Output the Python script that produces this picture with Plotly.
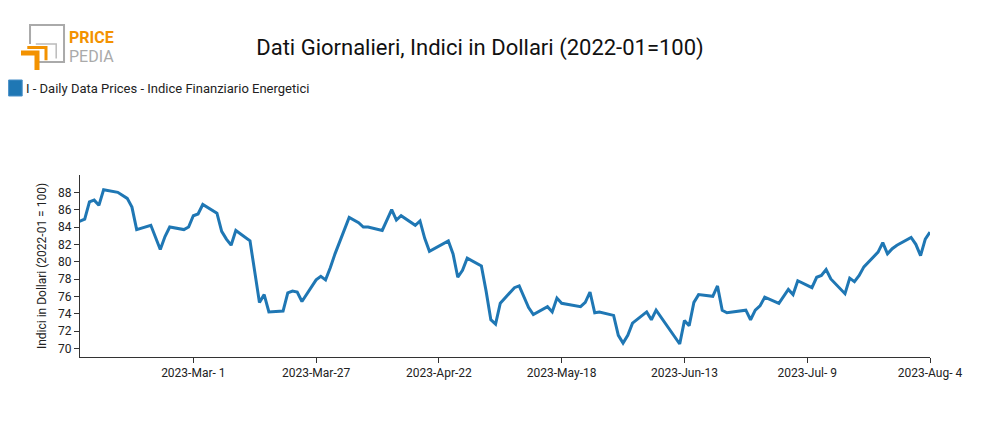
import plotly.graph_objects as go

# Dati giornalieri
dates = [
    "2023-02-03", "2023-02-06", "2023-02-07", "2023-02-08", "2023-02-09", "2023-02-10",
    "2023-02-13", "2023-02-15", "2023-02-16", "2023-02-17",
    "2023-02-20", "2023-02-22", "2023-02-23", "2023-02-24",
    "2023-02-27", "2023-02-28", "2023-03-01", "2023-03-02", "2023-03-03",
    "2023-03-06", "2023-03-07", "2023-03-08", "2023-03-09", "2023-03-10",
    "2023-03-13", "2023-03-15", "2023-03-16", "2023-03-17",
    "2023-03-20", "2023-03-21", "2023-03-22", "2023-03-23", "2023-03-24",
    "2023-03-27", "2023-03-28", "2023-03-29", "2023-03-30", "2023-03-31",
    "2023-04-03", "2023-04-05", "2023-04-06", "2023-04-07",
    "2023-04-10", "2023-04-12", "2023-04-13", "2023-04-14",
    "2023-04-17", "2023-04-18", "2023-04-19", "2023-04-20",
    "2023-04-24", "2023-04-25", "2023-04-26", "2023-04-27", "2023-04-28",
    "2023-05-01", "2023-05-02", "2023-05-03", "2023-05-04", "2023-05-05",
    "2023-05-08", "2023-05-09", "2023-05-11", "2023-05-12",
    "2023-05-15", "2023-05-16", "2023-05-17", "2023-05-18",
    "2023-05-22", "2023-05-23", "2023-05-24", "2023-05-25", "2023-05-26",
    "2023-05-29", "2023-05-30", "2023-05-31", "2023-06-01", "2023-06-02",
    "2023-06-05", "2023-06-06", "2023-06-07", "2023-06-09",
    "2023-06-12", "2023-06-13", "2023-06-14", "2023-06-15", "2023-06-16",
    "2023-06-19", "2023-06-20", "2023-06-21", "2023-06-22",
    "2023-06-26", "2023-06-27", "2023-06-28", "2023-06-29", "2023-06-30",
    "2023-07-03", "2023-07-05", "2023-07-06", "2023-07-07",
    "2023-07-10", "2023-07-11", "2023-07-12", "2023-07-13", "2023-07-14",
    "2023-07-17", "2023-07-18", "2023-07-19", "2023-07-20", "2023-07-21",
    "2023-07-24", "2023-07-25", "2023-07-26", "2023-07-27", "2023-07-28",
    "2023-07-31", "2023-08-01", "2023-08-02", "2023-08-03", "2023-08-04",
]
values = [
    84.2, 84.9, 86.9, 87.1, 86.5, 88.3,
    88.0, 87.3, 86.3, 83.7,
    84.2, 81.4, 82.9, 84.0,
    83.7, 84.0, 85.3, 85.5, 86.6,
    85.6, 83.5, 82.6, 81.9, 83.6,
    82.4, 75.3, 76.2, 74.2,
    74.3, 76.4, 76.6, 76.5, 75.4,
    77.9, 78.3, 77.9, 79.3, 80.9,
    85.1, 84.5, 84.0, 84.0,
    83.6, 86.0, 84.8, 85.3,
    84.2, 84.7, 82.7, 81.2,
    82.4, 80.9, 78.2, 79.0, 80.4,
    79.5, 76.6, 73.3, 72.8, 75.2,
    77.0, 77.2, 74.7, 73.9,
    74.8, 74.2, 75.8, 75.2,
    74.8, 75.3, 76.5, 74.1, 74.2,
    73.8, 71.5, 70.6, 71.5, 72.9,
    74.2, 73.3, 74.4, 72.8,
    70.5, 73.2, 72.6, 75.3, 76.2,
    76.0, 77.2, 74.4, 74.1,
    74.4, 73.3, 74.4, 74.9, 75.9,
    75.2, 76.8, 76.2, 77.8,
    77.0, 78.2, 78.4, 79.1, 78.0,
    76.3, 78.1, 77.7, 78.4, 79.4,
    81.1, 82.2, 80.9, 81.5, 81.9,
    82.8, 82.0, 80.7, 82.6, 83.4,
]
tick_dates = ["2023-03-01", "2023-03-27", "2023-04-22", "2023-05-18",
              "2023-06-13", "2023-07-09", "2023-08-04"]
tick_labels = ["2023-Mar- 1", "2023-Mar-27", "2023-Apr-22", "2023-May-18",
               "2023-Jun-13", "2023-Jul- 9", "2023-Aug- 4"]
series_name = "I - Daily Data Prices - Indice Finanziario Energetici"
blue = "#1f77b4"

fig = go.Figure()
fig.add_trace(go.Scatter(x=dates, y=values, mode="lines", line=dict(color=blue, width=3),
                         name=series_name, showlegend=False))

axis_style = dict(showgrid=False, zeroline=False, showline=True, linecolor="#333",
                  ticks="outside", ticklen=5, tickcolor="#333", automargin=False)
fig.update_xaxes(range=["2023-02-05", "2023-08-04"], tickvals=tick_dates,
                 ticktext=tick_labels, **axis_style)
fig.update_yaxes(range=[69, 90], tickvals=list(range(70, 89, 2)),
                 title=dict(text="Indici in Dollari (2022-01 = 100)", font=dict(size=12),
                            standoff=8),
                 **axis_style)

# legenda: quadratino + testo
fig.add_shape(type="rect", xref="paper", yref="paper", x0=-0.084, x1=-0.068,
              y0=1.434, y1=1.522, fillcolor=blue, line=dict(color="#4a90c8", width=1))
fig.add_annotation(x=-0.066, y=1.478, xref="paper", yref="paper", text=series_name,
                   showarrow=False, xanchor="left", yanchor="middle", font=dict(size=13))

# logo approssimato (coordinate paper)
fig.add_shape(type="path", xref="paper", yref="paper",
              path="M -0.0588 1.72 L -0.0588 1.824 L -0.0188 1.824 L -0.0188 1.621 L -0.05 1.621",
              line=dict(color="#aaa", width=2))
fig.add_shape(type="path", xref="paper", yref="paper",
              path="M -0.052 1.72 L -0.028 1.72 L -0.028 1.64",
              line=dict(color="#bbb", width=1.5))
fig.add_shape(type="path", xref="paper", yref="paper",
              path="M -0.0694 1.67 L -0.0506 1.67 L -0.0506 1.577",
              line=dict(color="#f39200", width=5))
fig.add_shape(type="path", xref="paper", yref="paper",
              path="M -0.062 1.70 L -0.040 1.70 L -0.040 1.63",
              line=dict(color="#f39200", width=3))
fig.add_annotation(x=-0.015, y=1.82, xref="paper", yref="paper", text="<b>PRICE</b>",
                   showarrow=False, xanchor="left", yanchor="top",
                   font=dict(color="#f39200", size=16, family="Roboto"))
fig.add_annotation(x=-0.015, y=1.715, xref="paper", yref="paper", text="PEDIA",
                   showarrow=False, xanchor="left", yanchor="top",
                   font=dict(color="#aaa", size=16, family="Roboto"))

fig.update_layout(
    width=985, height=430,
    title=dict(text="Dati Giornalieri, Indici in Dollari (2022-01=100)", x=472 / 985,
               y=1 - 39 / 430, xanchor="center", yanchor="middle",
               font=dict(size=22, color="#111")),
    font=dict(family="Roboto", size=12, color="#222"),
    showlegend=False,
    margin=dict(l=72, r=63, t=167, b=81, autoexpand=False),
    plot_bgcolor="white", paper_bgcolor="white",
)

fig.write_html("out.html")
